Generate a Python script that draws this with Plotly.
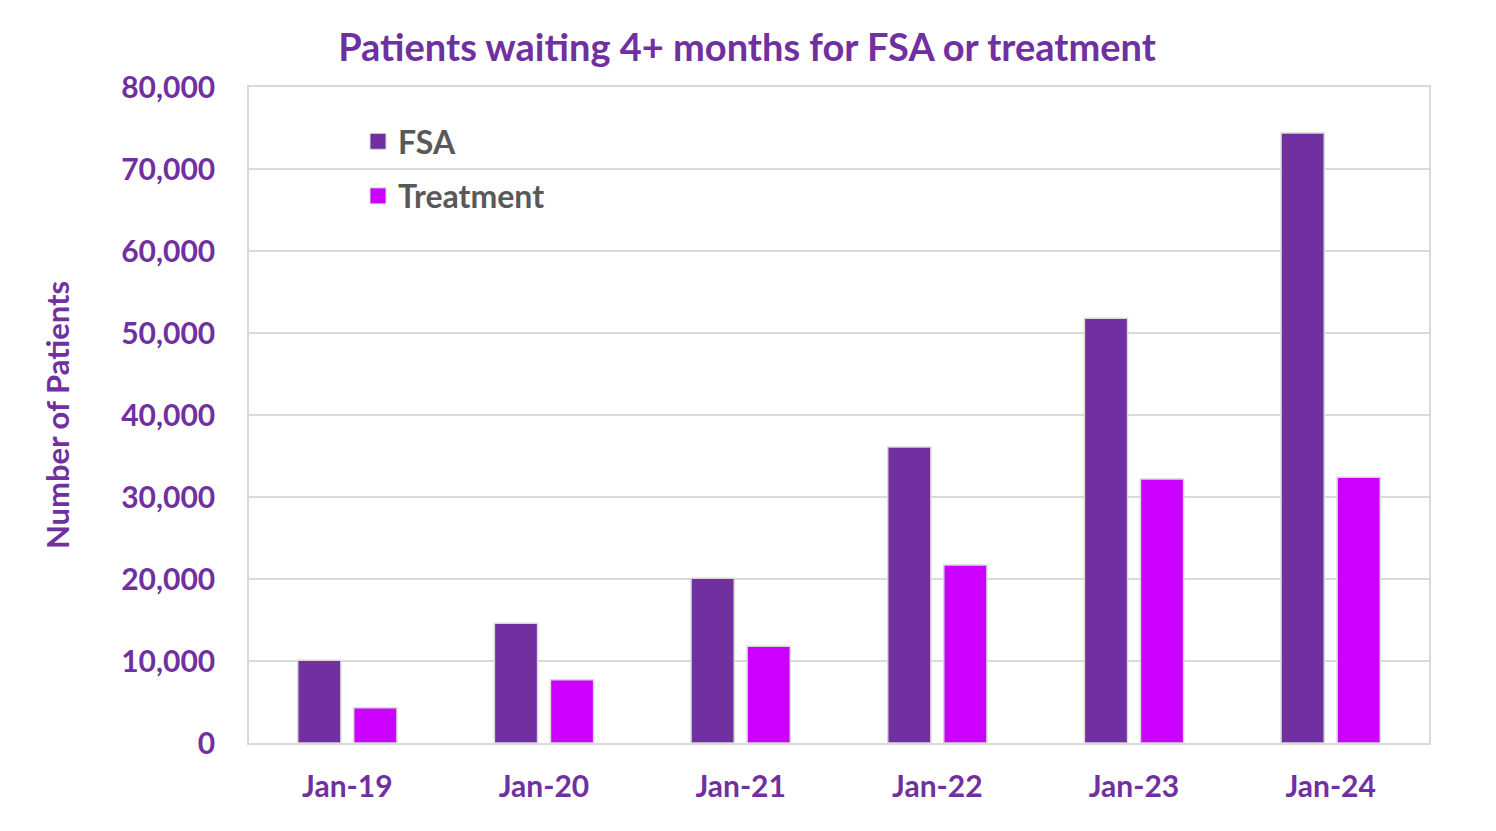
import plotly.graph_objects as go

categories = ["Jan-19", "Jan-20", "Jan-21", "Jan-22", "Jan-23", "Jan-24"]
fsa = [10100, 14600, 20100, 36100, 51800, 74400]
treatment = [4300, 7700, 11800, 21700, 32200, 32400]
y_ticks = [0, 10000, 20000, 30000, 40000, 50000, 60000, 70000, 80000]
series_names = ["FSA", "Treatment"]

W, H = 1496, 831
off = 8  # page body margin
ml, mr, mt, mb = 249 - off, 67 + off, 87 - off, 88 + off
pw, ph = W - ml - mr, H - mt - mb

purple = "#7030A0"
magenta = "#CC00FF"
colors = [purple, magenta]
font = "Lato"

fig = go.Figure()
for name, vals, col in zip(series_names, [fsa, treatment], colors):
    fig.add_trace(go.Bar(name=name, x=categories, y=vals, showlegend=False,
                         marker=dict(color=col, line=dict(color="#D9D9D9", width=1.5))))
for name, col in zip(series_names, colors):
    fig.add_trace(go.Scatter(name=f"<b>{name}</b>", x=[None], y=[None], mode="markers",
                             legendgroup=name,
                             marker=dict(symbol="square", size=16, color=col,
                                         line=dict(color="#D9D9D9", width=1))))

fig.update_layout(
    width=W, height=H,
    margin=dict(l=ml, r=mr, t=mt, b=mb),
    paper_bgcolor="white", plot_bgcolor="white",
    barmode="group", bargap=0.43, bargroupgap=0.23,
    title=dict(text="<b>Patients waiting 4+ months for FSA or treatment</b>", x=(747 - off) / W, xref="container",
               xanchor="center", y=1 - (48 - off) / H, yanchor="middle",
               font=dict(family=font, size=38, color=purple)),
    font=dict(family=font),
    legend=dict(x=(358 - 249) / pw, y=1 - (114 - 87) / ph, xanchor="left", yanchor="top",
                bgcolor="rgba(0,0,0,0)", font=dict(family=font, size=32, color="#595959"),
                itemsizing="trace", tracegroupgap=10, traceorder="grouped", itemwidth=30),
    xaxis=dict(showline=True, linecolor="#D9D9D9", linewidth=1.5, mirror=True,
               tickvals=categories, ticktext=[f"<b>{c}</b>" for c in categories],
               tickfont=dict(family=font, size=30, color=purple), ticks="", ticklen=0,
               ticklabelstandoff=16),
    yaxis=dict(range=[0, 80000], tickvals=y_ticks, ticktext=[f"<b>{v:,}</b>" for v in y_ticks],
               showgrid=True, gridcolor="#D9D9D9", gridwidth=1.5,
               showline=True, linecolor="#D9D9D9", linewidth=1.5, mirror=True, zeroline=False,
               tickfont=dict(family=font, size=30, color=purple), ticks="", ticklabelstandoff=26,
               title=dict(text="<b>Number of Patients</b>", font=dict(family=font, size=31, color=purple), standoff=42)),
)

fig.write_html("out.html")
